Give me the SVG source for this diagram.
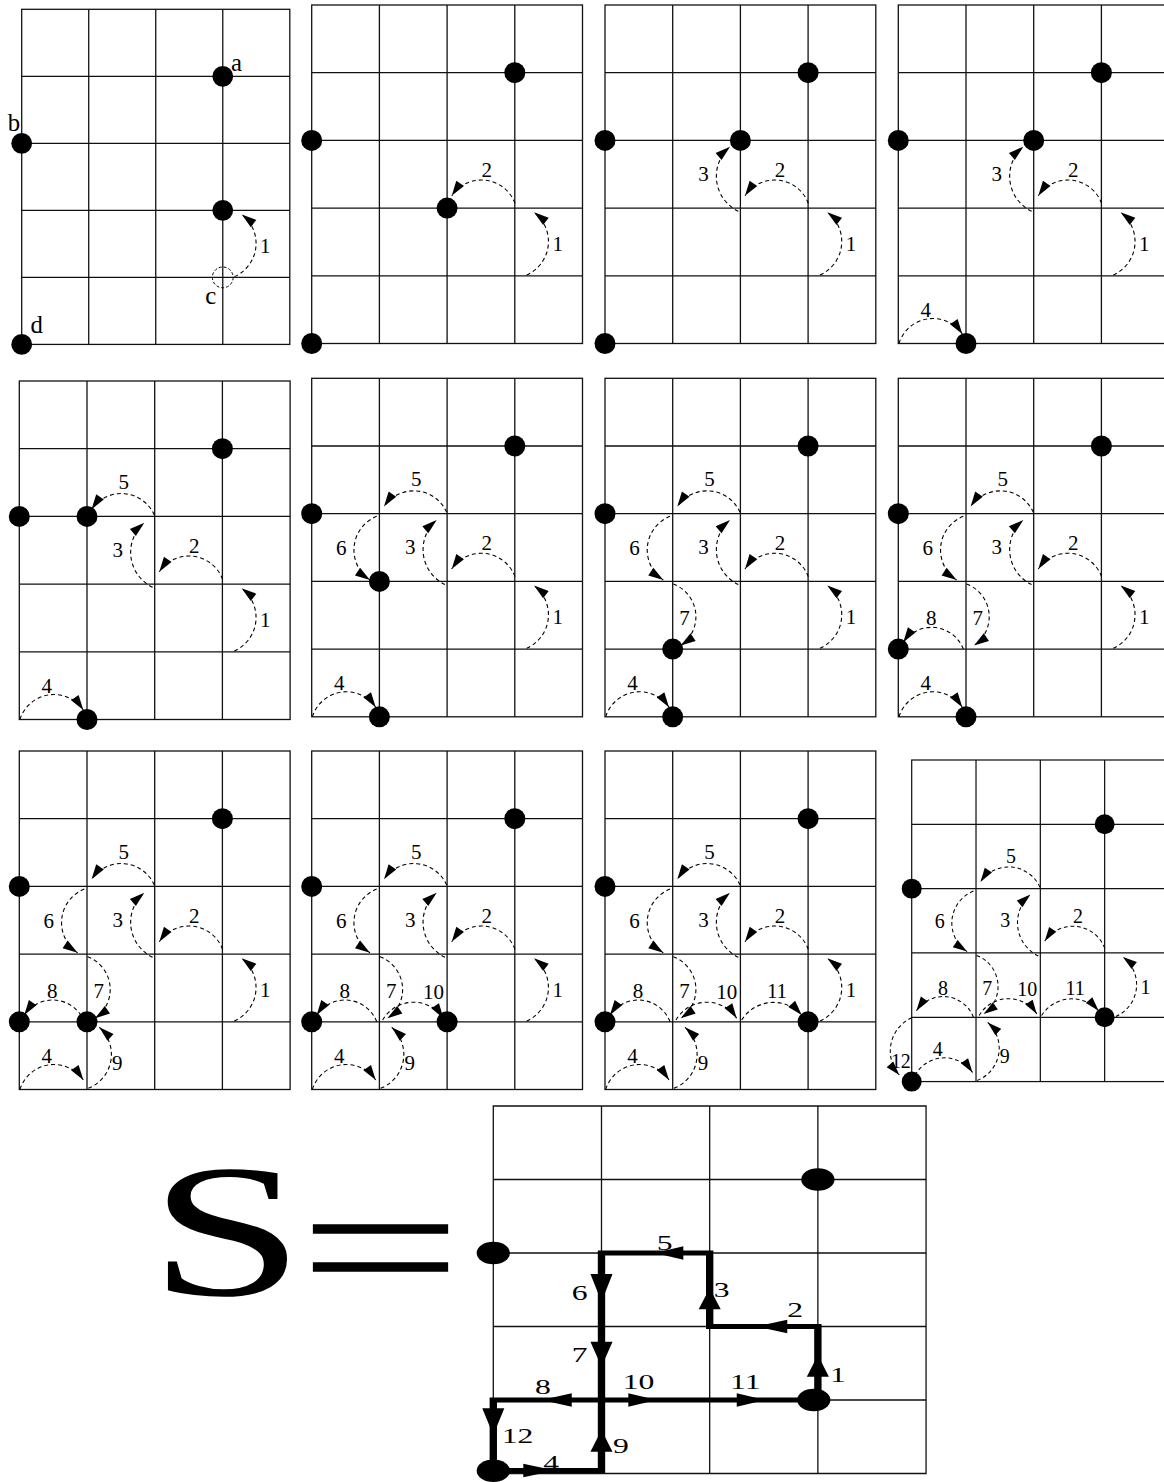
<svg xmlns="http://www.w3.org/2000/svg" width="1164" height="1482" viewBox="0 0 1164 1482">
<style>
.gl{fill:none;stroke:#111;stroke-width:1.3}
.arc{fill:none;stroke:#000;stroke-width:1.1;stroke-dasharray:4 3;marker-end:url(#ah)}
.dot{fill:#000}
.lb{font-family:"Liberation Serif","Times New Roman",serif;font-size:21px;fill:#000;text-anchor:middle}
.lt{font-family:"Liberation Serif","Times New Roman",serif;font-size:25px;fill:#000}
.bg{fill:none;stroke:#111;stroke-width:1.3;vector-effect:non-scaling-stroke}
.bold{fill:none;stroke:#000;stroke-width:5}
.bl{font-family:"Liberation Serif","Times New Roman",serif;font-size:21.5px;fill:#000}
.big{font-family:"Liberation Serif","Times New Roman",serif;fill:#000}
</style>
<defs>
<marker id="ah" markerUnits="userSpaceOnUse" orient="auto" markerWidth="30" markerHeight="30" refX="0" refY="0" overflow="visible"><path d="M0,0 L-15,-4.6 L-15,4.6 Z" fill="#000"/></marker>
<g id="grid"><rect class="gl" x="0" y="0" width="270.8" height="338.5"/><path class="gl" d="M67.7,0V338.5M135.4,0V338.5M203.1,0V338.5M0,67.7H270.8M0,135.4H270.8M0,203.1H270.8M0,270.8H270.8"/></g>
<path id="a1" class="arc" d="M215,270 A36.7,36.7 0 0 0 222.3,207.3"/>
<path id="a2" class="arc" d="M203.3,198.3 A35.9,35.9 0 0 0 140,190.7"/>
<path id="a3" class="arc" d="M133.3,206.3 A38.9,38.9 0 0 1 125,141.7"/>
<path id="a4" class="arc" d="M0.7,338.3 A35.6,35.6 0 0 1 64,329"/>
<path id="a5" class="arc" d="M135,134 A36,36 0 0 0 72.3,128.3"/>
<path id="a6" class="arc" d="M65,138 A36.2,36.2 0 0 0 58.3,201.7"/>
<path id="a7" class="arc" d="M68.3,205.7 A35,35 0 0 1 75.7,267.3"/>
<path id="a8" class="arc" d="M65,270.7 A34.1,34.1 0 0 0 5,264"/>
<path id="a9" class="arc" d="M69,337.3 A36.4,36.4 0 0 0 80,276.3"/>
<path id="a10" class="arc" d="M71,269 A35.7,35.7 0 0 1 131.7,267.3"/>
<path id="a11" class="arc" d="M136.7,269 A37.7,37.7 0 0 1 196.7,264"/>
<path id="a12" class="arc" d="M0,271.3 A38.4,38.4 0 0 0 -13,331.6"/>
</defs>

<g id="panel1" transform="translate(21.7,9.3) scale(0.99)">
<use href="#grid"/>
<g id="p1-nodes"><circle class="dot" cx="203.1" cy="67.7" r="10.5"/><circle class="dot" cx="0" cy="135.4" r="10.5"/><circle class="dot" cx="203.1" cy="203.1" r="10.5"/><circle class="dot" cx="0" cy="338.5" r="10.5"/><circle cx="203.1" cy="270.8" r="10.5" fill="none" stroke="#000" stroke-width="1" stroke-dasharray="3 2"/></g>
<g id="p1-conn"><use href="#a1"/></g>
<g id="p1-text"><text class="lt" x="211.5" y="62.3">a</text><text class="lt" x="-14" y="122.6">b</text><text class="lt" x="185.5" y="297.7">c</text><text class="lt" x="9" y="326.9">d</text><text class="lb" x="246" y="246">1</text></g>
</g>

<g id="panel2" transform="translate(311.7,5)">
<use href="#grid"/>
<g id="p2-nodes"><circle class="dot" cx="203.1" cy="67.7" r="10.5"/><circle class="dot" cx="0" cy="135.4" r="10.5"/><circle class="dot" cx="135.4" cy="203.1" r="10.5"/><circle class="dot" cx="0" cy="338.5" r="10.5"/></g>
<g id="p2-conn"><use href="#a1"/><use href="#a2"/></g>
<g id="p2-text"><text class="lb" x="246" y="246">1</text><text class="lb" x="175" y="172">2</text></g>
</g>

<g id="panel3" transform="translate(605,5)">
<use href="#grid"/>
<g id="p3-nodes"><circle class="dot" cx="203.1" cy="67.7" r="10.5"/><circle class="dot" cx="0" cy="135.4" r="10.5"/><circle class="dot" cx="135.4" cy="135.4" r="10.5"/><circle class="dot" cx="0" cy="338.5" r="10.5"/></g>
<g id="p3-conn"><use href="#a1"/><use href="#a2"/><use href="#a3"/></g>
<g id="p3-text"><text class="lb" x="246" y="246">1</text><text class="lb" x="175" y="172">2</text><text class="lb" x="98.5" y="176">3</text></g>
</g>

<g id="panel4" transform="translate(898.3,5)">
<use href="#grid"/>
<g id="p4-nodes"><circle class="dot" cx="203.1" cy="67.7" r="10.5"/><circle class="dot" cx="0" cy="135.4" r="10.5"/><circle class="dot" cx="135.4" cy="135.4" r="10.5"/><circle class="dot" cx="67.7" cy="338.5" r="10.5"/></g>
<g id="p4-conn"><use href="#a1"/><use href="#a2"/><use href="#a3"/><use href="#a4"/></g>
<g id="p4-text"><text class="lb" x="246" y="246">1</text><text class="lb" x="175" y="172">2</text><text class="lb" x="98.5" y="176">3</text><text class="lb" x="27.5" y="312">4</text></g>
</g>

<g id="panel5" transform="translate(19.3,381)">
<use href="#grid"/>
<g id="p5-nodes"><circle class="dot" cx="203.1" cy="67.7" r="10.5"/><circle class="dot" cx="0" cy="135.4" r="10.5"/><circle class="dot" cx="67.7" cy="135.4" r="10.5"/><circle class="dot" cx="67.7" cy="338.5" r="10.5"/></g>
<g id="p5-conn"><use href="#a1"/><use href="#a2"/><use href="#a3"/><use href="#a4"/><use href="#a5"/></g>
<g id="p5-text"><text class="lb" x="246" y="246">1</text><text class="lb" x="175" y="172">2</text><text class="lb" x="98.5" y="176">3</text><text class="lb" x="27.5" y="312">4</text><text class="lb" x="104.5" y="108">5</text></g>
</g>

<g id="panel6" transform="translate(311.7,378.3)">
<use href="#grid"/>
<g id="p6-nodes"><circle class="dot" cx="203.1" cy="67.7" r="10.5"/><circle class="dot" cx="0" cy="135.4" r="10.5"/><circle class="dot" cx="67.7" cy="203.1" r="10.5"/><circle class="dot" cx="67.7" cy="338.5" r="10.5"/></g>
<g id="p6-conn"><use href="#a1"/><use href="#a2"/><use href="#a3"/><use href="#a4"/><use href="#a5"/><use href="#a6"/></g>
<g id="p6-text"><text class="lb" x="246" y="246">1</text><text class="lb" x="175" y="172">2</text><text class="lb" x="98.5" y="176">3</text><text class="lb" x="27.5" y="312">4</text><text class="lb" x="104.5" y="108">5</text><text class="lb" x="29.5" y="177">6</text></g>
</g>

<g id="panel7" transform="translate(605,378.3)">
<use href="#grid"/>
<g id="p7-nodes"><circle class="dot" cx="203.1" cy="67.7" r="10.5"/><circle class="dot" cx="0" cy="135.4" r="10.5"/><circle class="dot" cx="67.7" cy="270.8" r="10.5"/><circle class="dot" cx="67.7" cy="338.5" r="10.5"/></g>
<g id="p7-conn"><use href="#a1"/><use href="#a2"/><use href="#a3"/><use href="#a4"/><use href="#a5"/><use href="#a6"/><use href="#a7"/></g>
<g id="p7-text"><text class="lb" x="246" y="246">1</text><text class="lb" x="175" y="172">2</text><text class="lb" x="98.5" y="176">3</text><text class="lb" x="27.5" y="312">4</text><text class="lb" x="104.5" y="108">5</text><text class="lb" x="29.5" y="177">6</text><text class="lb" x="79.5" y="247">7</text></g>
</g>

<g id="panel8" transform="translate(898.3,378.3)">
<use href="#grid"/>
<g id="p8-nodes"><circle class="dot" cx="203.1" cy="67.7" r="10.5"/><circle class="dot" cx="0" cy="135.4" r="10.5"/><circle class="dot" cx="0" cy="270.8" r="10.5"/><circle class="dot" cx="67.7" cy="338.5" r="10.5"/></g>
<g id="p8-conn"><use href="#a1"/><use href="#a2"/><use href="#a3"/><use href="#a4"/><use href="#a5"/><use href="#a6"/><use href="#a7"/><use href="#a8"/></g>
<g id="p8-text"><text class="lb" x="246" y="246">1</text><text class="lb" x="175" y="172">2</text><text class="lb" x="98.5" y="176">3</text><text class="lb" x="27.5" y="312">4</text><text class="lb" x="104.5" y="108">5</text><text class="lb" x="29.5" y="177">6</text><text class="lb" x="79.5" y="247">7</text><text class="lb" x="33" y="247">8</text></g>
</g>

<g id="panel9" transform="translate(19.3,751)">
<use href="#grid"/>
<g id="p9-nodes"><circle class="dot" cx="203.1" cy="67.7" r="10.5"/><circle class="dot" cx="0" cy="135.4" r="10.5"/><circle class="dot" cx="0" cy="270.8" r="10.5"/><circle class="dot" cx="67.7" cy="270.8" r="10.5"/></g>
<g id="p9-conn"><use href="#a1"/><use href="#a2"/><use href="#a3"/><use href="#a4"/><use href="#a5"/><use href="#a6"/><use href="#a7"/><use href="#a8"/><use href="#a9"/></g>
<g id="p9-text"><text class="lb" x="246" y="246">1</text><text class="lb" x="175" y="172">2</text><text class="lb" x="98.5" y="176">3</text><text class="lb" x="27.5" y="312">4</text><text class="lb" x="104.5" y="108">5</text><text class="lb" x="29.5" y="177">6</text><text class="lb" x="79.5" y="247">7</text><text class="lb" x="33" y="247">8</text><text class="lb" x="98" y="319">9</text></g>
</g>

<g id="panel10" transform="translate(311.7,751)">
<use href="#grid"/>
<g id="p10-nodes"><circle class="dot" cx="203.1" cy="67.7" r="10.5"/><circle class="dot" cx="0" cy="135.4" r="10.5"/><circle class="dot" cx="0" cy="270.8" r="10.5"/><circle class="dot" cx="135.4" cy="270.8" r="10.5"/></g>
<g id="p10-conn"><use href="#a1"/><use href="#a2"/><use href="#a3"/><use href="#a4"/><use href="#a5"/><use href="#a6"/><use href="#a7"/><use href="#a8"/><use href="#a9"/><use href="#a10"/></g>
<g id="p10-text"><text class="lb" x="246" y="246">1</text><text class="lb" x="175" y="172">2</text><text class="lb" x="98.5" y="176">3</text><text class="lb" x="27.5" y="312">4</text><text class="lb" x="104.5" y="108">5</text><text class="lb" x="29.5" y="177">6</text><text class="lb" x="79.5" y="247">7</text><text class="lb" x="33" y="247">8</text><text class="lb" x="98" y="319">9</text><text class="lb" x="121.7" y="248">10</text></g>
</g>

<g id="panel11" transform="translate(605,751)">
<use href="#grid"/>
<g id="p11-nodes"><circle class="dot" cx="203.1" cy="67.7" r="10.5"/><circle class="dot" cx="0" cy="135.4" r="10.5"/><circle class="dot" cx="0" cy="270.8" r="10.5"/><circle class="dot" cx="203.1" cy="270.8" r="10.5"/></g>
<g id="p11-conn"><use href="#a1"/><use href="#a2"/><use href="#a3"/><use href="#a4"/><use href="#a5"/><use href="#a6"/><use href="#a7"/><use href="#a8"/><use href="#a9"/><use href="#a10"/><use href="#a11"/></g>
<g id="p11-text"><text class="lb" x="246" y="246">1</text><text class="lb" x="175" y="172">2</text><text class="lb" x="98.5" y="176">3</text><text class="lb" x="27.5" y="312">4</text><text class="lb" x="104.5" y="108">5</text><text class="lb" x="29.5" y="177">6</text><text class="lb" x="79.5" y="247">7</text><text class="lb" x="33" y="247">8</text><text class="lb" x="98" y="319">9</text><text class="lb" x="121.7" y="248">10</text><text class="lb" x="172" y="247">11</text></g>
</g>

<g id="panel12" transform="translate(911.7,760) scale(0.95)">
<use href="#grid"/>
<g id="p12-nodes"><circle class="dot" cx="203.1" cy="67.7" r="10.5"/><circle class="dot" cx="0" cy="135.4" r="10.5"/><circle class="dot" cx="0" cy="338.5" r="10.5"/><circle class="dot" cx="203.1" cy="270.8" r="10.5"/></g>
<g id="p12-conn"><use href="#a1"/><use href="#a2"/><use href="#a3"/><use href="#a4"/><use href="#a5"/><use href="#a6"/><use href="#a7"/><use href="#a8"/><use href="#a9"/><use href="#a10"/><use href="#a11"/><use href="#a12"/></g>
<g id="p12-text"><text class="lb" x="246" y="246">1</text><text class="lb" x="175" y="172">2</text><text class="lb" x="98.5" y="176">3</text><text class="lb" x="27.5" y="312">4</text><text class="lb" x="104.5" y="108">5</text><text class="lb" x="29.5" y="177">6</text><text class="lb" x="79.5" y="247">7</text><text class="lb" x="33" y="247">8</text><text class="lb" x="98" y="319">9</text><text class="lb" x="121.7" y="248">10</text><text class="lb" x="172" y="247">11</text><text class="lb" x="-11.4" y="324">12</text></g>
</g>

<g id="formula">
<text class="big" transform="translate(149,1295) scale(1.47,1)" font-size="190">S</text>
<text class="big" transform="translate(298.4,1311) scale(1.53,1)" font-size="190">=</text>
</g>

<g id="result" transform="translate(493.3,1106) scale(1.472,1)">
<rect class="bg" x="0" y="0" width="294" height="367.5"/>
<path class="bg" d="M73.5,0V367.5M147,0V367.5M220.5,0V367.5M0,73.5H294M0,147H294M0,220.5H294M0,294H294"/>
<g id="result-conn">
<path class="bold" d="M220.5,294V220.5H147V147H73.5V294H0V364.5H73.5V294H220.5"/>
<polygon points="220.5,249 213,270.7 228,270.7"/>
<polygon points="178.9,220.5 199.7,213.8 199.7,227.2"/>
<polygon points="147,182.3 139.5,203.3 154.5,203.3"/>
<polygon points="109.8,147 129.1,140.3 129.1,153.7"/>
<polygon points="73.5,195.7 66,168 81,168"/>
<polygon points="73.5,260.7 66,235.7 81,235.7"/>
<polygon points="32.8,294 53.3,287.3 53.3,300.7"/>
<polygon points="0,329 -7.5,302.3 7.5,302.3"/>
<polygon points="42,364.5 20.4,357.8 20.4,371.2"/>
<polygon points="73.5,324 66,345.7 81,345.7"/>
<polygon points="111,294 91.7,287.3 91.7,300.7"/>
<polygon points="184.6,294 165.4,287.3 165.4,300.7"/>
</g>
<g id="result-nodes">
<circle class="dot" cx="220.5" cy="73.5" r="11.3"/>
<circle class="dot" cx="0" cy="147" r="11.3"/>
<circle class="dot" cx="217.7" cy="294" r="11.3"/>
<circle class="dot" cx="0" cy="364.7" r="11.3"/>
</g>
<g id="result-text">
<text class="bl" x="111" y="144">5</text>
<text class="bl" x="149.7" y="190.7">3</text>
<text class="bl" x="199.7" y="211.3">2</text>
<text class="bl" x="228.7" y="275.7">1</text>
<text class="bl" x="87.9" y="283.3">10</text>
<text class="bl" x="160.8" y="283.3">11</text>
<text class="bl" x="53.3" y="194">6</text>
<text class="bl" x="53.3" y="255.7">7</text>
<text class="bl" x="28.3" y="288">8</text>
<text class="bl" x="5.7" y="337.3">12</text>
<text class="bl" x="81.4" y="347.3">9</text>
<text class="bl" x="34" y="364">4</text>
</g>
</g>
</svg>
